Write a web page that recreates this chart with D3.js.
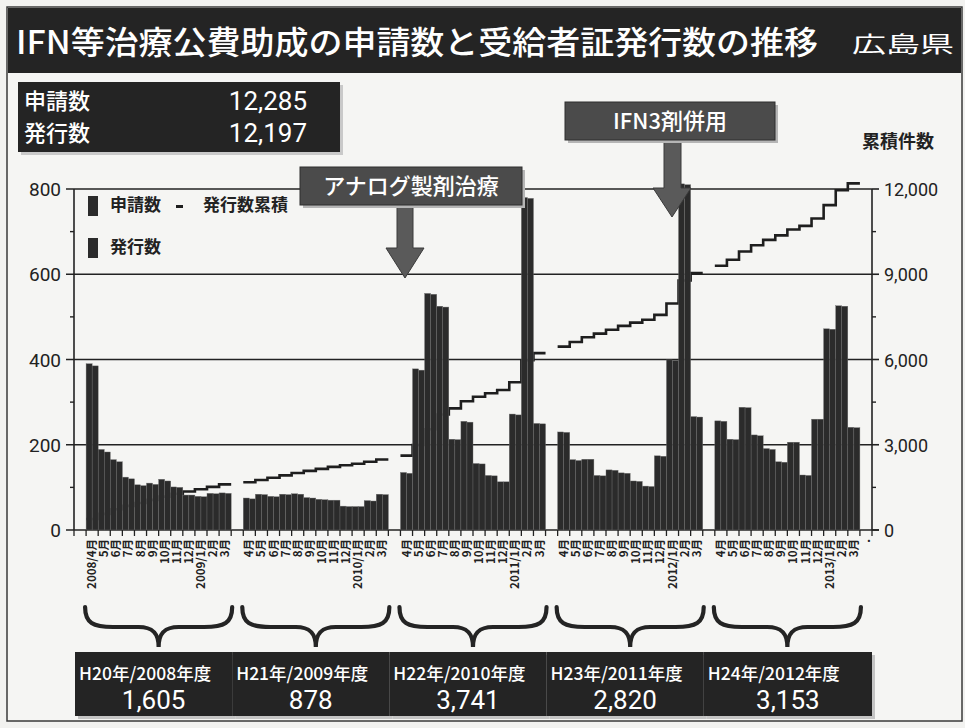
<!DOCTYPE html>
<html>
<head>
<meta charset="utf-8">
<script src="https://cdn.jsdelivr.net/npm/d3@7"></script>
<style>
html, body { margin: 0; padding: 0; background: #f2f2f0; }
svg { display: block; font-family: "Noto Sans CJK JP", "Noto Sans", sans-serif; }
</style>
</head>
<body>
<svg id="chart" width="965" height="728"></svg>
<script>
// ---- data ----
const fiscalYears = ["H20年/2008年度", "H21年/2009年度", "H22年/2010年度", "H23年/2011年度", "H24年/2012年度"];
const fiscalTotals = [1605, 878, 3741, 2820, 3153];
const summaryLabels = ["申請数", "発行数"];
const summaryValues = [12285, 12197];
const seriesNames = ["申請数", "発行数"];

const monthLabels = [
  ["2008/4月", "5月", "6月", "7月", "8月", "9月", "10月", "11月", "12月", "2009/1月", "2月", "3月"],
  ["4月", "5月", "6月", "7月", "8月", "9月", "10月", "11月", "12月", "2010/1月", "2月", "3月"],
  ["4月", "5月", "6月", "7月", "8月", "9月", "10月", "11月", "12月", "2011/1月", "2月", "3月"],
  ["4月", "5月", "6月", "7月", "8月", "9月", "10月", "11月", "12月", "2012/1月", "2月", "3月"],
  ["4月", "5月", "6月", "7月", "8月", "9月", "10月", "11月", "12月", "2013/1月", "2月", "3月"]
];

// 申請数 (applications) per month, fiscal years 2008-2012
const applications = [
  [390, 189, 165, 124, 106, 110, 119, 101, 82, 79, 86, 87],
  [75, 84, 79, 84, 85, 76, 72, 70, 56, 55, 69, 84],
  [135, 378, 555, 525, 213, 255, 156, 128, 113, 272, 780, 250],
  [230, 165, 166, 128, 141, 134, 115, 103, 174, 399, 812, 266],
  [256, 213, 288, 223, 191, 160, 206, 129, 260, 472, 526, 241]
];

// 発行数 (certificates issued) per month
const issued = [
  [385, 183, 160, 120, 104, 107, 115, 100, 82, 78, 85, 86],
  [73, 83, 78, 83, 84, 75, 71, 70, 55, 55, 68, 83],
  [133, 375, 553, 523, 212, 253, 155, 127, 113, 270, 778, 249],
  [229, 163, 166, 127, 140, 133, 114, 102, 173, 398, 810, 265],
  [255, 212, 287, 221, 189, 159, 206, 128, 260, 471, 525, 240]
];

const leftTicks = [0, 200, 400, 600, 800];
const leftMinor = [100, 300, 500, 700];
const rightTicks = [0, 3000, 6000, 9000, 12000];
const rightMinor = [1500, 4500, 7500, 10500];

// ---- layout ----
const svg = d3.select("#chart");
const L = 74, R = 872, Y0 = 530, YT = 189;
const y = d3.scaleLinear().domain([0, 800]).range([Y0, YT]);
const y2 = d3.scaleLinear().domain([0, 12000]).range([Y0, YT]);

// each fiscal year: one empty slot then twelve months; one trailing slot at the end
const slotCount = fiscalYears.length * 13 + 1;
const x = d3.scaleBand().domain(d3.range(slotCount)).range([L, R]).paddingInner(0).paddingOuter(0);
const bw = x.bandwidth();
const slotOf = (g, m) => g * 13 + 1 + m;
const sub = d3.scaleBand().domain(seriesNames).range([0, bw]);
const fmt = d3.format(",");

// outer frame
svg.append("rect").attr("x", 7).attr("y", 7).attr("width", 955).attr("height", 714)
  .attr("fill", "#f5f5f3").attr("stroke", "#3a3a3a").attr("stroke-width", 1.5);

// ---- title ----
svg.append("rect").attr("x", 8).attr("y", 8).attr("width", 953).attr("height", 65).attr("fill", "#242424");
svg.append("text").attr("x", 16).attr("y", 54).attr("fill", "#fff").attr("font-size", 32)
  .attr("font-weight", 500).attr("textLength", 802).attr("lengthAdjust", "spacingAndGlyphs")
  .text("IFN等治療公費助成の申請数と受給者証発行数の推移");
svg.append("text").attr("x", 852).attr("y", 52).attr("fill", "#fff").attr("font-size", 22)
  .attr("font-weight", 400).attr("textLength", 102).attr("lengthAdjust", "spacingAndGlyphs")
  .text("広島県");

// ---- summary box ----
svg.append("rect").attr("x", 21).attr("y", 85).attr("width", 322).attr("height", 70).attr("fill", "#c9c9c9");
svg.append("rect").attr("x", 18).attr("y", 82).attr("width", 322).attr("height", 70).attr("fill", "#242424");
summaryLabels.forEach((lab, i) => {
  svg.append("text").attr("x", 24).attr("y", 109 + i * 32).attr("fill", "#fff").attr("font-size", 22)
    .attr("font-weight", 500).text(lab);
  svg.append("text").attr("x", 307).attr("y", 110 + i * 32).attr("fill", "#fff").attr("font-size", 26)
    .attr("text-anchor", "end").attr("font-family", "Roboto, 'Liberation Sans', sans-serif")
    .text(fmt(summaryValues[i]));
});

// right axis title
svg.append("text").attr("x", 862).attr("y", 148).attr("font-size", 18).attr("font-weight", 700)
  .attr("fill", "#222").text("累積件数");

// ---- gridlines ----
svg.append("g").selectAll("line").data(leftTicks).join("line")
  .attr("x1", L - 8).attr("x2", d => d === 0 ? R + 7 : R).attr("y1", d => y(d)).attr("y2", d => y(d))
  .attr("stroke", "#222").attr("stroke-width", 1.6);

// ---- cumulative issued line (drawn beneath the bars) ----
const cum = d3.cumsum(issued.flat());
const line = d3.line().x(d => d[0]).y(d => y2(d[1]));
fiscalYears.forEach((fy, g) => {
  const pts = [];
  for (let m = 0; m < 12; m++) {
    const c = cum[g * 12 + m];
    const x0 = x(slotOf(g, m));
    pts.push([x0, c], [x0 + bw, c]);
  }
  svg.append("path").attr("d", line(pts)).attr("fill", "none")
    .attr("stroke", "#1e1e1e").attr("stroke-width", 2.6);
});

// ---- bars ----
const barData = [];
fiscalYears.forEach((fy, g) => {
  for (let m = 0; m < 12; m++) {
    barData.push({ s: "申請数", slot: slotOf(g, m), v: applications[g][m] });
    barData.push({ s: "発行数", slot: slotOf(g, m), v: issued[g][m] });
  }
});
svg.append("g").selectAll("rect").data(barData).join("rect")
  .attr("x", d => x(d.slot) + sub(d.s))
  .attr("width", sub.bandwidth())
  .attr("y", d => y(d.v))
  .attr("height", d => Y0 - y(d.v))
  .attr("fill", "#2b2b2b")
  .attr("stroke", "#6e6e6e")
  .attr("stroke-width", 0.4);

// ---- axes ----
svg.append("line").attr("x1", L).attr("x2", L).attr("y1", YT).attr("y2", Y0)
  .attr("stroke", "#222").attr("stroke-width", 1.6);
svg.append("g").selectAll("line").data(leftMinor).join("line")
  .attr("x1", L - 4).attr("x2", L).attr("y1", d => y(d)).attr("y2", d => y(d))
  .attr("stroke", "#222").attr("stroke-width", 1.4);
svg.append("g").selectAll("text").data(leftTicks).join("text")
  .attr("x", L - 13).attr("y", d => y(d) + 7).attr("text-anchor", "end")
  .attr("font-size", 19).attr("fill", "#222")
  .attr("font-family", "Roboto, 'Liberation Sans', sans-serif").text(d => d);

svg.append("line").attr("x1", R).attr("x2", R).attr("y1", YT).attr("y2", Y0)
  .attr("stroke", "#222").attr("stroke-width", 1.6);
svg.append("g").selectAll("line").data(rightTicks).join("line")
  .attr("x1", R).attr("x2", R + 7).attr("y1", d => y2(d)).attr("y2", d => y2(d))
  .attr("stroke", "#222").attr("stroke-width", 1.6);
svg.append("g").selectAll("line").data(rightMinor).join("line")
  .attr("x1", R).attr("x2", R + 4).attr("y1", d => y2(d)).attr("y2", d => y2(d))
  .attr("stroke", "#222").attr("stroke-width", 1.4);
svg.append("g").selectAll("text").data(rightTicks).join("text")
  .attr("x", R + 12).attr("y", d => y2(d) + 7).attr("text-anchor", "start")
  .attr("font-size", 18).attr("fill", "#222")
  .attr("font-family", "Roboto, 'Liberation Sans', sans-serif").text(d => fmt(d));

// x ticks at every slot boundary
svg.append("g").selectAll("line").data(d3.range(slotCount + 1)).join("line")
  .attr("x1", i => L + i * bw).attr("x2", i => L + i * bw)
  .attr("y1", Y0).attr("y2", Y0 + 6)
  .attr("stroke", "#222").attr("stroke-width", 1.3);

// month labels, rotated
const labelData = [];
fiscalYears.forEach((fy, g) => monthLabels[g].forEach((t, m) => labelData.push({ t, slot: slotOf(g, m) })));
labelData.push({ t: ".", slot: slotCount - 1 });
svg.append("g").selectAll("text").data(labelData).join("text")
  .attr("transform", d => `translate(${x(d.slot) + bw / 2 + 4},${Y0 + 9}) rotate(-90)`)
  .attr("text-anchor", "end").attr("font-size", 11.5).attr("font-weight", 700).attr("fill", "#222")
  .text(d => d.t);

// ---- legend ----
const lg = svg.append("g");
lg.append("rect").attr("x", 88).attr("y", 196).attr("width", 10).attr("height", 20).attr("fill", "#2b2b2b");
lg.append("text").attr("x", 110).attr("y", 211).attr("font-size", 17).attr("font-weight", 700).attr("fill", "#222").text(seriesNames[0]);
lg.append("rect").attr("x", 176).attr("y", 205).attr("width", 7).attr("height", 3).attr("fill", "#1e1e1e");
lg.append("text").attr("x", 203).attr("y", 211).attr("font-size", 17).attr("font-weight", 700).attr("fill", "#222").text("発行数累積");
lg.append("rect").attr("x", 88).attr("y", 238).attr("width", 10).attr("height", 20).attr("fill", "#2b2b2b");
lg.append("text").attr("x", 110).attr("y", 253).attr("font-size", 17).attr("font-weight", 700).attr("fill", "#222").text(seriesNames[1]);

// ---- callouts ----
function callout(bx, by, w, h, label, arrow) {
  const gEl = svg.append("g");
  gEl.append("polygon").attr("points", arrow.map(p => p.join(",")).join(" "))
    .attr("fill", "#5a5a5a").attr("stroke", "#3a3a3a").attr("stroke-width", 1);
  gEl.append("rect").attr("x", bx + 3).attr("y", by + 3).attr("width", w).attr("height", h).attr("fill", "#b5b5b5");
  gEl.append("rect").attr("x", bx).attr("y", by).attr("width", w).attr("height", h)
    .attr("fill", "#4b4b4b").attr("stroke", "#2e2e2e").attr("stroke-width", 1);
  gEl.append("text").attr("x", bx + w / 2).attr("y", by + h / 2 + 8).attr("text-anchor", "middle")
    .attr("fill", "#fff").attr("font-size", 22).attr("font-weight", 500).text(label);
}
callout(300, 167, 222, 38, "アナログ製剤治療",
  [[397, 204], [413, 204], [413, 248], [424, 248], [405, 278], [386, 248], [397, 248]]);
callout(565, 102, 210, 38, "IFN3剤併用",
  [[664, 139], [681, 139], [681, 188], [691, 188], [672, 217], [653, 188], [664, 188]]);

// ---- braces and fiscal-year boxes ----
fiscalYears.forEach((fy, g) => {
  const x0 = x(slotOf(g, 0)) - 1;
  const x1 = x(slotOf(g, 11)) + bw + 1;
  const mid = (x0 + x1) / 2;
  const top = 607, my = 627, tip = 647;
  const p = d3.path();
  p.moveTo(x0, top);
  p.bezierCurveTo(x0, top + 16, x0 + 8, my, x0 + 28, my);
  p.lineTo(mid - 20, my);
  p.bezierCurveTo(mid - 6, my, mid, my + 6, mid, tip);
  p.bezierCurveTo(mid, my + 6, mid + 6, my, mid + 20, my);
  p.lineTo(x1 - 28, my);
  p.bezierCurveTo(x1 - 8, my, x1, top + 16, x1, top);
  svg.append("path").attr("d", p.toString()).attr("fill", "none")
    .attr("stroke", "#242424").attr("stroke-width", 4.2).attr("stroke-linecap", "round");

  const bx0 = x(g * 13) + 1;
  const bx1 = g === fiscalYears.length - 1 ? R : x(slotOf(g, 11)) + bw + 1;
  const bw2 = bx1 - bx0;
  svg.append("rect").attr("x", bx0 + 3).attr("y", 655).attr("width", bw2).attr("height", 64).attr("fill", "#c4c4c4");
  svg.append("rect").attr("x", bx0).attr("y", 652).attr("width", bw2).attr("height", 64).attr("fill", "#242424");
  svg.append("clipPath").attr("id", "clip" + g)
    .append("rect").attr("x", bx0).attr("y", 652).attr("width", bw2 - 2).attr("height", 64);
  svg.append("text").attr("x", bx0 + 4).attr("y", 680).attr("clip-path", `url(#clip${g})`)
    .attr("fill", "#fff").attr("font-size", 17.5).attr("font-weight", 500).text(fy);
  svg.append("text").attr("x", (bx0 + bx1) / 2).attr("y", 709).attr("text-anchor", "middle")
    .attr("fill", "#fff").attr("font-size", 26).attr("font-family", "Roboto, 'Liberation Sans', sans-serif")
    .text(fmt(fiscalTotals[g]));
});
</script>
</body>
</html>
